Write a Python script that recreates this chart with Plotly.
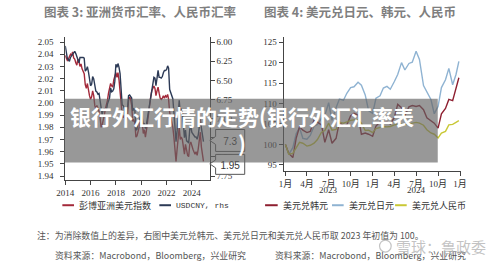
import plotly.graph_objects as go
import pandas as pd

# ---------------- data ----------------
# Left chart: monthly, Jan 2014 - Dec 2024
left_months = pd.date_range("2014-01-01", "2024-12-01", freq="MS")
asia_dollar_index = [
    2.039, 2.037, 2.035, 2.036, 2.038, 2.040, 2.039, 2.042, 2.037, 2.036, 2.033, 2.031,
    2.036, 2.034, 2.030, 2.032, 2.028, 2.026, 2.024, 2.015, 2.012, 2.016, 2.010, 2.006,
    2.003, 2.005, 2.010, 2.006, 1.998, 1.995, 1.998, 1.996, 1.993, 1.988, 1.980, 1.982,
    1.985, 1.990, 1.995, 1.998, 2.002, 2.008, 2.012, 2.016, 2.014, 2.013, 2.019, 2.023,
    2.025, 2.021, 2.025, 2.019, 2.010, 2.000, 1.990, 1.988, 1.990, 1.982, 1.985, 1.990,
    2.002, 2.005, 2.003, 1.998, 1.985, 1.986, 1.984, 1.972, 1.973, 1.977, 1.980, 1.988,
    1.990, 1.984, 1.975, 1.978, 1.972, 1.978, 1.986, 1.994, 2.000, 2.005, 2.010, 2.012,
    2.014, 2.012, 2.006, 2.010, 2.013, 2.008, 2.004, 2.003, 2.004, 2.006, 2.004, 2.006,
    2.005, 2.007, 2.003, 1.992, 1.988, 1.985, 1.980, 1.972, 1.960, 1.952, 1.962, 1.975,
    1.980, 1.970, 1.972, 1.970, 1.962, 1.958, 1.966, 1.960, 1.957, 1.956, 1.966, 1.968,
    1.964, 1.962, 1.960, 1.958, 1.960, 1.957, 1.962, 1.972, 1.976, 1.964, 1.957, 1.952,
]
usdcny = [
    6.05, 6.13, 6.21, 6.23, 6.25, 6.20, 6.18, 6.15, 6.14, 6.12, 6.15, 6.20,
    6.25, 6.27, 6.20, 6.20, 6.20, 6.20, 6.21, 6.38, 6.36, 6.32, 6.39, 6.49,
    6.57, 6.55, 6.45, 6.48, 6.58, 6.64, 6.65, 6.68, 6.67, 6.78, 6.89, 6.95,
    6.88, 6.87, 6.89, 6.89, 6.81, 6.78, 6.73, 6.60, 6.65, 6.64, 6.61, 6.51,
    6.29, 6.33, 6.28, 6.33, 6.41, 6.62, 6.82, 6.83, 6.87, 6.97, 6.94, 6.87,
    6.70, 6.69, 6.72, 6.73, 6.90, 6.87, 6.88, 7.15, 7.14, 7.04, 7.03, 6.96,
    6.93, 6.99, 7.08, 7.07, 7.13, 7.07, 6.98, 6.86, 6.81, 6.70, 6.58, 6.53,
    6.46, 6.47, 6.57, 6.47, 6.37, 6.46, 6.46, 6.47, 6.45, 6.40, 6.37, 6.37,
    6.36, 6.31, 6.34, 6.62, 6.67, 6.70, 6.74, 6.92, 7.12, 7.30, 7.16, 6.92,
    6.76, 6.93, 6.87, 6.91, 7.09, 7.25, 7.15, 7.29, 7.30, 7.32, 7.14, 7.10,
    7.18, 7.20, 7.22, 7.24, 7.24, 7.27, 7.22, 7.09, 7.01, 7.12, 7.24, 7.30,
]
left_tick_years = [2014, 2016, 2018, 2020, 2022, 2024]
left_y_ticks = [1.94, 1.95, 1.96, 1.97, 1.98, 1.99, 2.00, 2.01, 2.02, 2.03, 2.04, 2.05]
right_y_ticks_left_chart = [6.00, 6.25, 6.50, 6.75, 7.00, 7.25, 7.50, 7.75]

# Right chart: semi-monthly, 2023 = 100
right_dates = [f"{y}-{m:02d}-{d:02d}" for y in (2023, 2024) for m in range(1, 13) for d in (1, 15)] + ["2024-12-27"]
usdkrw_idx = [
    100.0, 97.8, 96.8, 101.5, 104.3, 103.5, 102.9, 103.2, 106.0, 105.5, 104.8, 100.5,
    103.6, 100.3, 101.5, 105.5, 104.6, 104.8, 107.0, 107.6, 107.2, 102.5, 102.8, 102.5,
    102.0, 104.5, 105.5, 105.4, 105.5, 105.0, 106.6, 109.8, 109.0, 107.0, 109.2, 109.5,
    109.3, 109.5, 108.5, 106.5, 105.8, 105.2, 104.0, 107.5, 108.8, 111.0, 110.7, 113.5, 116.3,
]
usdjpy_idx = [
    100.0, 97.6, 99.2, 102.6, 104.1, 101.5, 101.3, 102.2, 104.5, 104.9, 106.4, 107.1,
    110.2, 105.9, 109.0, 111.1, 110.8, 112.5, 113.9, 114.1, 115.2, 114.5, 112.1, 108.3,
    107.6, 111.3, 111.9, 113.8, 114.2, 113.5, 115.4, 117.1, 120.0, 118.2, 119.8, 120.1,
    122.8, 120.8, 114.4, 112.9, 111.0, 107.5, 109.3, 113.9, 115.8, 118.6, 114.6, 117.1, 120.3,
]
usdcny_idx = [
    100.0, 97.6, 97.8, 99.2, 100.5, 100.3, 99.6, 99.8, 100.3, 101.2, 103.0, 103.4,
    105.2, 103.5, 103.7, 105.4, 105.2, 105.5, 105.9, 106.0, 106.1, 105.2, 103.4, 103.5,
    102.9, 103.9, 104.1, 104.4, 104.3, 104.4, 104.8, 104.9, 105.0, 104.8, 105.0, 105.2,
    105.4, 105.2, 104.7, 103.6, 102.8, 102.5, 101.6, 102.8, 103.2, 104.8, 104.9, 105.4, 105.8,
]
right_tick_dates = ["2023-01-01", "2023-04-01", "2023-07-01", "2023-10-01",
                    "2024-01-01", "2024-04-01", "2024-07-01", "2024-10-01", "2025-01-01"]
right_tick_text = ["1月", "4月", "7月", "10月", "1月", "4月", "7月", "10月", "1月"]
right_years = ["2023", "2024"]
right_year_pos = ["2023-07-01", "2024-07-01"]
right_y_ticks = [95, 100, 105, 110, 115, 120, 125]

# ---------------- styling ----------------
W, H = 500, 264
def px(x): return x / W
def py(y): return 1 - y / H

RED_L = "#a3293a"
NAVY = "#2c3a56"
RED_R = "#8e1f30"
BLUE = "#8fb3d2"
YELLOW = "#c9c836"
AX = "#444444"
TICKFONT = dict(family="Liberation Serif, Noto Sans CJK SC", size=9, color="#333333")
CJK = "Noto Sans CJK SC"

fig = go.Figure()
fig.add_trace(go.Scatter(x=left_months, y=asia_dollar_index, mode="lines",
                         line=dict(color=RED_L, width=1.4), xaxis="x", yaxis="y", name="彭博亚洲美元指数"))
fig.add_trace(go.Scatter(x=left_months, y=usdcny, mode="lines",
                         line=dict(color=NAVY, width=1.4), xaxis="x", yaxis="y2", name="USDCNY, rhs"))
fig.add_trace(go.Scatter(x=right_dates, y=usdjpy_idx, mode="lines",
                         line=dict(color=BLUE, width=1.4), xaxis="x2", yaxis="y3", name="美元兑日元"))
fig.add_trace(go.Scatter(x=right_dates, y=usdkrw_idx, mode="lines",
                         line=dict(color=RED_R, width=1.4), xaxis="x2", yaxis="y3", name="美元兑韩元"))
fig.add_trace(go.Scatter(x=right_dates, y=usdcny_idx, mode="lines",
                         line=dict(color=YELLOW, width=1.4), xaxis="x2", yaxis="y3", name="美元兑人民币"))

axis_common = dict(showgrid=False, zeroline=False, showline=True, linecolor=AX, linewidth=1,
                   ticks="outside", ticklen=4, tickcolor=AX, tickwidth=1, tickfont=TICKFONT)

fig.update_layout(
    width=W, height=H, margin=dict(l=0, r=0, t=0, b=0), autosize=False,
    paper_bgcolor="white", plot_bgcolor="rgba(0,0,0,0)", showlegend=False,
    xaxis=dict(domain=[px(58), px(207)], anchor="y", type="date",
               range=["2014-01-01", "2025-06-01"],
               tickvals=[f"{y}-01-01" for y in left_tick_years],
               ticktext=[str(y) for y in left_tick_years], **axis_common),
    yaxis=dict(domain=[py(181), py(37)], anchor="x", range=[1.9365, 2.0543],
               tickvals=left_y_ticks, tickformat=".2f", ticklabelstandoff=5, **axis_common),
    yaxis2=dict(overlaying="y", anchor="x", side="right", range=[7.806, 5.931],
                tickvals=right_y_ticks_left_chart, tickformat=".2f", **axis_common),
    xaxis2=dict(domain=[px(283), px(466)], anchor="y3", type="date",
                range=["2022-12-24", "2025-01-05"],
                tickvals=right_tick_dates, ticktext=right_tick_text, **axis_common),
    yaxis3=dict(domain=[py(171.7), py(37)], anchor="x2", range=[93.5, 126.3],
                tickvals=right_y_ticks, **axis_common),
)

shapes = []
annots = []

def path(points):
    s = "M " + " L ".join(f"{px(x):.5f},{py(y):.5f}" for x, y in points) + " Z"
    return s

# last-value callouts (under banner)
for (top, mid, bot, txt) in [(130, 141, 152, "7.3"), (155, 164.5, 175, "1.95")]:
    shapes.append(dict(type="path", xref="paper", yref="paper", layer="above",
                       path=path([(243, top), (213, top), (213, mid - 4), (207, mid), (213, mid + 4),
                                  (213, bot), (243, bot)]),
                       fillcolor="white", line=dict(color="#555555", width=1)))
    shapes.append(dict(type="rect", xref="paper", yref="paper", layer="above",
                       x0=px(213), x1=px(243), y0=py(bot), y1=py(top),
                       line=dict(width=0), fillcolor="rgba(0,0,0,0)",
                       label=dict(text=txt, font=dict(family="Liberation Sans", size=10, color="#333333"),
                                  textposition="middle center")))

# banner
shapes.append(dict(type="rect", xref="paper", yref="paper", layer="above",
                   x0=px(57), x1=px(442), y0=py(163), y1=py(99),
                   fillcolor="rgba(98,98,98,0.66)", line=dict(width=0)))

# legends (manual)
def leg(x0, x1, y, color, text, tx, family=CJK, size=9):
    shapes.append(dict(type="line", xref="paper", yref="paper", x0=px(x0), x1=px(x1),
                       y0=py(y), y1=py(y), line=dict(color=color, width=2)))
    annots.append(dict(text=text, x=px(tx), y=py(y), xref="paper", yref="paper",
                       xanchor="left", yanchor="middle", showarrow=False,
                       font=dict(family=family, size=size, color="#333333")))

leg(55, 67, 206, RED_L, "彭博亚洲美元指数", 70)
leg(155, 167, 206, NAVY, "USDCNY, rhs", 170, family="Liberation Mono", size=8)
leg(264, 277, 206, RED_R, "美元兑韩元", 280)
leg(333, 345, 206, BLUE, "美元兑日元", 348)
leg(398, 410, 206, YELLOW, "美元兑人民币", 413)

# titles
annots.append(dict(text="<b>图表 3: 亚洲货币汇率、人民币汇率</b>", x=px(135), y=py(12),
                   xref="paper", yref="paper", xanchor="center", yanchor="middle", showarrow=False,
                   font=dict(family=CJK, size=12.5, color="#7f7f7f")))
annots.append(dict(text="<b>图表 4: 美元兑日元、韩元、人民币</b>", x=px(362), y=py(12),
                   xref="paper", yref="paper", xanchor="center", yanchor="middle", showarrow=False,
                   font=dict(family=CJK, size=12.5, color="#7f7f7f")))

# year labels right chart
for yr, pos in zip(right_years, right_year_pos):
    annots.append(dict(text=yr, x=pos, y=py(191), xref="x2", yref="paper",
                       xanchor="center", yanchor="middle", showarrow=False, font=TICKFONT))

# notes
annots.append(dict(text="注：为消除数值上的差异，右图中美元兑韩元、美元兑日元和美元兑人民币取 2023 年初值为 100。",
                   x=px(27), y=py(236.5), xref="paper", yref="paper", xanchor="left", yanchor="middle",
                   showarrow=False, font=dict(family=CJK, size=8.9, color="#555555")))
annots.append(dict(text="资料来源：Macrobond，Bloomberg，兴业研究", x=px(45), y=py(256),
                   xref="paper", yref="paper", xanchor="left", yanchor="middle", showarrow=False,
                   font=dict(family=CJK, size=8.9, color="#555555")))
annots.append(dict(text="资料来源：Macrobond，Bloomberg，兴业研究", x=px(272), y=py(256),
                   xref="paper", yref="paper", xanchor="left", yanchor="middle", showarrow=False,
                   font=dict(family=CJK, size=8.9, color="#555555")))

# watermark
shapes.append(dict(type="circle", xref="paper", yref="paper", x0=px(382), x1=px(394),
                   y0=py(253), y1=py(241), line=dict(color="rgba(170,170,170,0.7)", width=1.2)))
annots.append(dict(text="雪球：鲁政委", x=px(397), y=py(247), xref="paper", yref="paper",
                   xanchor="left", yanchor="middle", showarrow=False,
                   font=dict(family=CJK, size=15, color="rgba(175,175,175,0.75)")))

# banner text
annots.append(dict(text="<b>银行外汇行情的走势(银行外汇汇率表<br>)</b>", x=px(240), y=py(129.5),
                   xref="paper", yref="paper", xanchor="center", yanchor="middle", align="center",
                   showarrow=False, font=dict(family=CJK, size=21, color="white")))

fig.update_layout(shapes=shapes, annotations=annots)
fig.write_html("out.html")
